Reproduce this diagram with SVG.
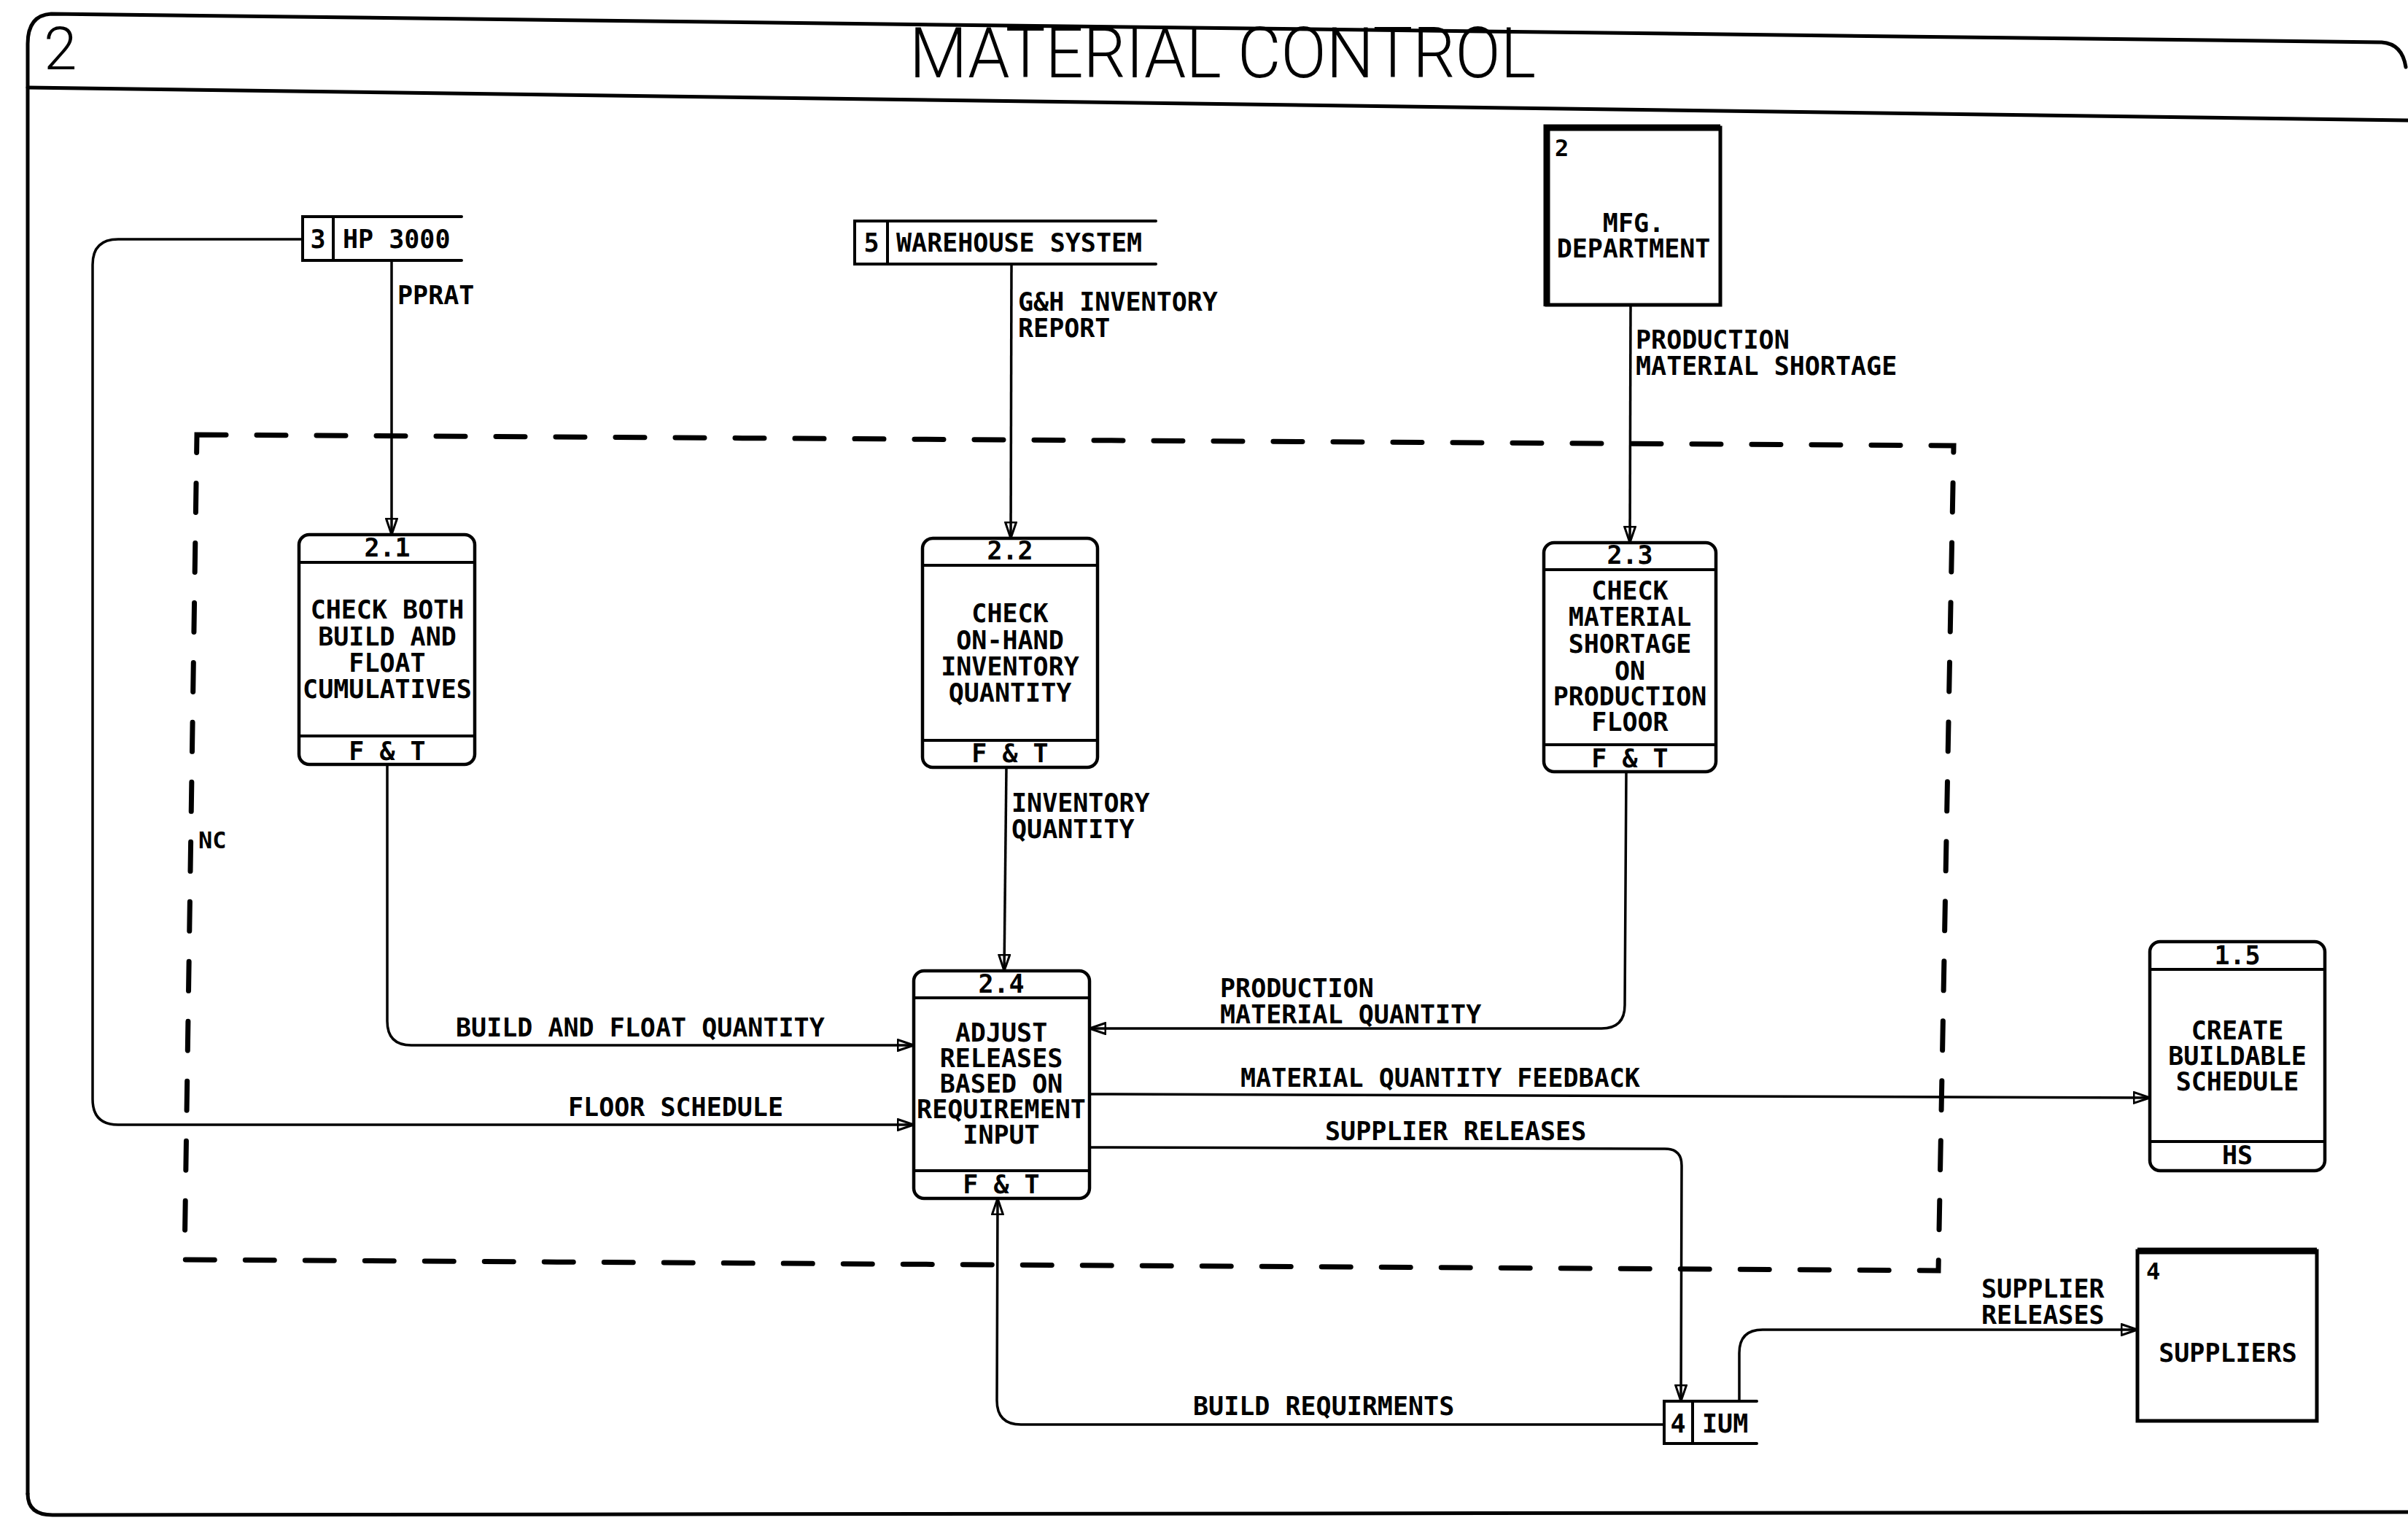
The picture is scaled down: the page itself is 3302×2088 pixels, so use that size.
<svg xmlns="http://www.w3.org/2000/svg" width="3302" height="2088" viewBox="0 0 3302 2088">
  <style>
    .frame { fill: none; stroke: #000; stroke-width: 5; stroke-linecap: round; stroke-linejoin: round; }
    .box { fill: #fff; stroke: #000; stroke-width: 4.5; }
    .div { stroke: #000; stroke-width: 4; fill: none; }
    .ent { fill: #fff; stroke: #000; stroke-width: 5; }
    .ent-heavy { stroke: #000; stroke-width: 9; fill: none; }
    .store { stroke: #000; stroke-width: 4; fill: none; stroke-linecap: round; }
    .flow { fill: none; stroke: #000; stroke-width: 3.5; stroke-linejoin: round; }
    .boundary { fill: none; stroke: #000; stroke-width: 7; stroke-dasharray: 40 42; stroke-linecap: round; }
    .t { font-family: "DejaVu Sans Mono", "Liberation Mono", monospace; font-weight: bold; font-size: 35px; fill: #000; }
    .c { text-anchor: middle; }
    .small { font-size: 32px; }
    .title { font-family: Roboto, "DejaVu Sans", sans-serif; font-weight: 300; fill: #000; }
  </style>
  <defs>
    <marker id="arrow" viewBox="0 0 24 18" refX="23" refY="9" markerWidth="24" markerHeight="18" markerUnits="userSpaceOnUse" orient="auto">
      <path d="M1,1.5 L23,9 L1,16.5 Z" fill="none" stroke="#000" stroke-width="3" stroke-linejoin="round"/>
    </marker>
  </defs>

  <rect width="3302" height="2088" fill="#fff"/>

  <!-- sheet frame and title band -->
  <g id="frame">
    <path class="frame" d="M38,2048 L38,60 Q38,21 70,19 L3266,58 Q3294,60 3299,92"/>
    <path class="frame" d="M38,2048 Q38,2077 72,2077 L3302,2073"/>
    <path class="frame" d="M38,120 L3302,165"/>
    <text class="title" x="60" y="95" font-size="82">2</text>
    <text class="title" x="1247" y="106" font-size="96" textLength="859" lengthAdjust="spacingAndGlyphs">MATERIAL CONTROL</text>
  </g>

  <!-- context boundary -->
  <g id="boundary">
    <path class="boundary" d="M270,596 L2679,611 L2658,1742 L253,1727 Z"/>
    <text class="t small" x="272" y="1163">NC</text>
  </g>

  <!-- data flows -->
  <g id="connectors">
    <path class="flow" d="M415,328 L162,328 Q127,328 127,363 L127,1507 Q127,1542 162,1542 L1253,1542" marker-end="url(#arrow)"/>
    <path class="flow" d="M537,357 L537,733" marker-end="url(#arrow)"/>
    <path class="flow" d="M531,1048 L531,1400 Q531,1433 564,1433 L1253,1433" marker-end="url(#arrow)"/>
    <path class="flow" d="M1387,362 L1386,738" marker-end="url(#arrow)"/>
    <path class="flow" d="M1380,1052 L1377,1331" marker-end="url(#arrow)"/>
    <path class="flow" d="M2236,418 L2235,744" marker-end="url(#arrow)"/>
    <path class="flow" d="M2230,1058 L2228,1378 Q2228,1410 2196,1410 L1494,1410" marker-end="url(#arrow)"/>
    <path class="flow" d="M1494,1500 L2948,1505" marker-end="url(#arrow)"/>
    <path class="flow" d="M1494,1573 L2283,1575 Q2306,1575 2306,1598 L2305,1921" marker-end="url(#arrow)"/>
    <path class="flow" d="M2282,1953 L1400,1953 Q1367,1953 1367,1920 L1368,1643" marker-end="url(#arrow)"/>
    <path class="flow" d="M2385,1921 L2385,1855 Q2385,1823 2417,1823 L2931,1823" marker-end="url(#arrow)"/>

    <text class="t" x="545" y="417">PPRAT</text>
    <text class="t" x="779" y="1530">FLOOR SCHEDULE</text>
    <text class="t" x="625" y="1421">BUILD AND FLOAT QUANTITY</text>
    <text class="t" x="1396" y="426">G&amp;H INVENTORY</text>
    <text class="t" x="1396" y="462">REPORT</text>
    <text class="t" x="1387" y="1113">INVENTORY</text>
    <text class="t" x="1387" y="1149">QUANTITY</text>
    <text class="t" x="2243" y="478">PRODUCTION</text>
    <text class="t" x="2243" y="514">MATERIAL SHORTAGE</text>
    <text class="t" x="1673" y="1367">PRODUCTION</text>
    <text class="t" x="1673" y="1403">MATERIAL QUANTITY</text>
    <text class="t" x="1701" y="1490">MATERIAL QUANTITY FEEDBACK</text>
    <text class="t" x="1817" y="1563">SUPPLIER RELEASES</text>
    <text class="t" x="1636" y="1940">BUILD REQUIRMENTS</text>
    <text class="t" x="2717" y="1779">SUPPLIER</text>
    <text class="t" x="2717" y="1815">RELEASES</text>
  </g>

  <!-- data stores -->
  <g id="store-3">
    <path class="store" d="M633,297 L415,297 L415,357 L633,357 M457,297 L457,357"/>
    <text class="t c" x="436" y="340">3</text>
    <text class="t" x="470" y="340">HP 3000</text>
  </g>
  <g id="store-5">
    <path class="store" d="M1585,303 L1172,303 L1172,362 L1585,362 M1217,303 L1217,362"/>
    <text class="t c" x="1195" y="345">5</text>
    <text class="t" x="1229" y="345">WAREHOUSE SYSTEM</text>
  </g>
  <g id="store-4">
    <path class="store" d="M2409,1921 L2282,1921 L2282,1979 L2409,1979 M2321,1921 L2321,1979"/>
    <text class="t c" x="2301" y="1964">4</text>
    <text class="t" x="2334" y="1964">IUM</text>
  </g>

  <!-- external entities -->
  <g id="entity-mfg">
    <rect class="ent" x="2121" y="175" width="238" height="243"/>
    <path class="ent-heavy" d="M2121,420 L2121,175 L2359,175"/>
    <text class="t small" x="2132" y="214">2</text>
    <text class="t c" x="2240" y="318">MFG.</text>
    <text class="t c" x="2240" y="353">DEPARTMENT</text>
  </g>
  <g id="entity-suppliers">
    <rect class="ent" x="2931" y="1715" width="246" height="233"/>
    <path class="ent-heavy" d="M2931,1715 L3177,1715"/>
    <text class="t small" x="2943" y="1754">4</text>
    <text class="t c" x="3055" y="1867">SUPPLIERS</text>
  </g>

  <!-- processes -->
  <g id="process-2-1">
    <rect class="box" x="410" y="733" width="241" height="315" rx="14"/>
    <path class="div" d="M410,771 L651,771 M410,1009 L651,1009"/>
    <text class="t c" x="531" y="763">2.1</text>
    <text class="t c" x="531" y="848">CHECK BOTH</text>
    <text class="t c" x="531" y="885">BUILD AND</text>
    <text class="t c" x="531" y="921">FLOAT</text>
    <text class="t c" x="531" y="957">CUMULATIVES</text>
    <text class="t c" x="531" y="1042">F &amp; T</text>
  </g>
  <g id="process-2-2">
    <rect class="box" x="1265" y="738" width="240" height="314" rx="14"/>
    <path class="div" d="M1265,775 L1505,775 M1265,1015 L1505,1015"/>
    <text class="t c" x="1385" y="767">2.2</text>
    <text class="t c" x="1385" y="853">CHECK</text>
    <text class="t c" x="1385" y="890">ON-HAND</text>
    <text class="t c" x="1385" y="926">INVENTORY</text>
    <text class="t c" x="1385" y="962">QUANTITY</text>
    <text class="t c" x="1385" y="1045">F &amp; T</text>
  </g>
  <g id="process-2-3">
    <rect class="box" x="2117" y="744" width="236" height="314" rx="14"/>
    <path class="div" d="M2117,781 L2353,781 M2117,1021 L2353,1021"/>
    <text class="t c" x="2235" y="773">2.3</text>
    <text class="t c" x="2235" y="822">CHECK</text>
    <text class="t c" x="2235" y="858">MATERIAL</text>
    <text class="t c" x="2235" y="895">SHORTAGE</text>
    <text class="t c" x="2235" y="932">ON</text>
    <text class="t c" x="2235" y="967">PRODUCTION</text>
    <text class="t c" x="2235" y="1002">FLOOR</text>
    <text class="t c" x="2235" y="1052">F &amp; T</text>
  </g>
  <g id="process-2-4">
    <rect class="box" x="1253" y="1331" width="241" height="312" rx="14"/>
    <path class="div" d="M1253,1368 L1494,1368 M1253,1605 L1494,1605"/>
    <text class="t c" x="1373" y="1361">2.4</text>
    <text class="t c" x="1373" y="1428">ADJUST</text>
    <text class="t c" x="1373" y="1463">RELEASES</text>
    <text class="t c" x="1373" y="1498">BASED ON</text>
    <text class="t c" x="1373" y="1533">REQUIREMENT</text>
    <text class="t c" x="1373" y="1568">INPUT</text>
    <text class="t c" x="1373" y="1636">F &amp; T</text>
  </g>
  <g id="process-1-5">
    <rect class="box" x="2948" y="1291" width="240" height="314" rx="14"/>
    <path class="div" d="M2948,1329 L3188,1329 M2948,1565 L3188,1565"/>
    <text class="t c" x="3068" y="1322">1.5</text>
    <text class="t c" x="3068" y="1425">CREATE</text>
    <text class="t c" x="3068" y="1460">BUILDABLE</text>
    <text class="t c" x="3068" y="1495">SCHEDULE</text>
    <text class="t c" x="3068" y="1596">HS</text>
  </g>
</svg>
